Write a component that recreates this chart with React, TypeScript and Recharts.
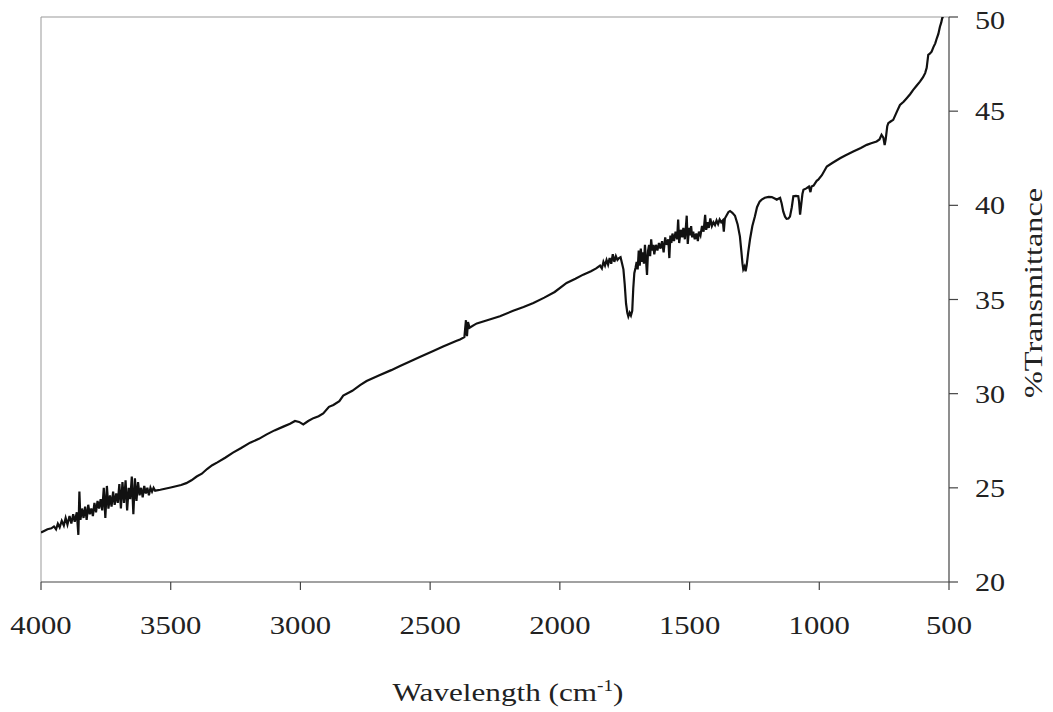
import React from "react";
import { LineChart, Line, XAxis, YAxis, ReferenceLine, Label } from "recharts";

const wavenumbers: number[] = [
  4000, 3990, 3975, 3960, 3950, 3942, 3935, 3928, 3920, 3912, 3905, 3898, 3890, 3883, 3876, 3870,
  3862, 3856, 3852, 3848, 3842, 3836, 3830, 3824, 3818, 3812, 3806, 3800, 3794, 3788, 3782, 3776,
  3770, 3764, 3758, 3752, 3746, 3740, 3734, 3728, 3722, 3716, 3710, 3704, 3698, 3692, 3686, 3680,
  3674, 3668, 3662, 3656, 3650, 3644, 3638, 3632, 3626, 3620, 3614, 3608, 3602, 3596, 3590, 3584,
  3578, 3572, 3566, 3560, 3540, 3500, 3460, 3440, 3420, 3400, 3380, 3360, 3340, 3320, 3290, 3260,
  3230, 3194, 3160, 3130, 3100, 3066, 3040, 3021, 3005, 2989, 2970, 2950, 2930, 2912, 2890, 2873,
  2850, 2835, 2800, 2770, 2745, 2700, 2650, 2616, 2580, 2540, 2488, 2450, 2400, 2385, 2368, 2362,
  2358, 2354, 2348, 2330, 2320, 2280, 2231, 2180, 2140, 2102, 2060, 2020, 1974, 1940, 1910, 1880,
  1860, 1845, 1838, 1832, 1826, 1820, 1814, 1808, 1802, 1796, 1790, 1784, 1778, 1772, 1766, 1760,
  1755, 1750, 1745, 1740, 1736, 1731, 1726, 1721, 1717, 1713, 1708, 1704, 1700, 1696, 1692, 1688,
  1684, 1680, 1676, 1672, 1668, 1664, 1660, 1656, 1652, 1648, 1644, 1640, 1636, 1630, 1624, 1618,
  1612, 1606, 1600, 1594, 1588, 1582, 1578, 1574, 1570, 1566, 1560, 1554, 1548, 1544, 1540, 1534,
  1528, 1524, 1518, 1514, 1511, 1507, 1502, 1498, 1494, 1490, 1486, 1480, 1474, 1468, 1464, 1458,
  1452, 1446, 1440, 1436, 1430, 1426, 1420, 1414, 1408, 1402, 1396, 1390, 1384, 1378, 1372, 1368,
  1364, 1356, 1350, 1344, 1335, 1325, 1315, 1306, 1300, 1296, 1293, 1288, 1284, 1280, 1274, 1267,
  1258, 1248, 1240, 1230, 1222, 1210, 1195, 1183, 1170, 1164, 1158, 1151, 1145, 1139, 1132, 1126,
  1119, 1113, 1106, 1100, 1090, 1081, 1078, 1074, 1070, 1065, 1061, 1050, 1040, 1034, 1030, 1022,
  1010, 1004, 990, 971, 950, 920, 900, 869, 840, 817, 800, 779, 768, 760, 753, 748,
  744, 738, 734, 725, 715, 700, 689, 675, 663, 650, 638, 625, 612, 600, 592, 586,
  580, 574, 567, 560, 553, 547, 541, 535, 530, 526, 522,
];

const transmittance: number[] = [
  22.63, 22.7, 22.8, 22.85, 22.95, 22.8, 23.1, 22.9, 23.25, 23.0, 23.4, 23.05, 23.5, 23.1, 23.6, 23.2,
  23.7, 22.5, 24.8, 23.3, 23.9, 23.4, 24.0, 23.3, 24.1, 23.6, 23.9, 23.5, 24.2, 23.7, 24.3, 23.9,
  24.4, 23.8, 25.0, 23.4, 25.1, 23.9, 24.6, 24.0, 24.8, 24.1, 24.7, 24.2, 25.2, 23.9, 25.3, 24.2,
  25.4, 23.8, 25.0, 24.4, 25.6, 23.6, 25.5, 24.3, 25.3, 24.6, 25.0, 24.5, 25.1, 24.7, 25.0, 24.6,
  25.0, 24.8, 25.0, 24.85, 24.9, 25.02, 25.15, 25.25, 25.4, 25.6, 25.75, 26.0, 26.2, 26.35, 26.6, 26.87,
  27.1, 27.4, 27.6, 27.84, 28.05, 28.25, 28.4, 28.55, 28.5, 28.37, 28.55, 28.7, 28.8, 28.95, 29.3, 29.4,
  29.6, 29.9, 30.15, 30.45, 30.67, 30.95, 31.25, 31.47, 31.7, 31.95, 32.26, 32.5, 32.8, 32.88, 33.0, 33.9,
  33.05, 33.8, 33.5, 33.65, 33.73, 33.9, 34.11, 34.4, 34.6, 34.82, 35.1, 35.4, 35.88, 36.1, 36.32, 36.5,
  36.65, 36.8, 36.65, 37.0, 36.8, 37.1, 36.85, 37.2, 36.9, 37.4, 37.0, 37.3, 37.1, 37.2, 37.25, 36.9,
  36.6, 35.8, 34.8, 34.3, 34.1, 34.3, 34.15, 34.4, 35.6, 36.4, 36.7, 37.0, 36.6, 37.6, 36.8, 37.7,
  37.0, 37.5, 36.9, 37.9, 37.1, 36.3, 37.6, 37.9, 37.3, 38.2, 37.6, 37.9, 37.4, 37.9, 37.6, 38.0,
  37.7, 38.1, 37.5, 38.3, 37.9, 38.2, 37.2, 38.4, 38.0, 38.5, 38.1, 38.6, 38.2, 39.25, 38.0, 38.7,
  38.3, 38.8, 38.2, 38.9, 39.45, 37.95, 38.8, 38.4, 38.9, 38.3, 38.6, 38.2, 38.5, 38.1, 38.6, 38.4,
  38.9, 38.6, 39.5, 38.7, 39.1, 38.8, 39.3, 38.9, 39.1, 38.95, 39.2, 39.0, 39.25, 39.1, 39.2, 38.6,
  39.3, 39.5, 39.65, 39.7, 39.6, 39.45, 39.0, 38.35, 37.5, 36.9, 36.6, 36.75, 36.5, 36.8, 37.5, 38.2,
  38.9, 39.42, 39.9, 40.2, 40.3, 40.4, 40.45, 40.44, 40.35, 40.3, 40.35, 40.4, 40.1, 39.68, 39.4, 39.28,
  39.3, 39.4, 39.9, 40.48, 40.5, 40.48, 40.2, 39.5, 40.0, 40.6, 40.83, 40.9, 41.0, 40.7, 41.0, 41.05,
  41.3, 41.36, 41.6, 42.06, 42.25, 42.5, 42.65, 42.86, 43.05, 43.21, 43.3, 43.39, 43.5, 43.75, 43.6, 43.2,
  43.5, 44.2, 44.36, 44.45, 44.54, 45.0, 45.33, 45.5, 45.69, 45.9, 46.13, 46.35, 46.57, 46.8, 47.02, 47.3,
  47.99, 48.05, 48.16, 48.4, 48.6, 48.87, 49.1, 49.48, 49.7, 49.95, 50.0,
];

const xTicks: number[] = [4000, 3500, 3000, 2500, 2000, 1500, 1000, 500];
const yTicks: number[] = [20, 25, 30, 35, 40, 45, 50];

const data = wavenumbers.map((w, i) => ({ w, t: transmittance[i] }));

const FONT = "'Liberation Serif', 'Times New Roman', serif";

const XTick = (props: any) => {
  const { x, y, payload } = props;
  return (
    <text
      transform={`translate(${x}, ${y + 42}) scale(1.18, 1)`}
      textAnchor="middle"
      fontFamily={FONT}
      fontSize={26}
      fill="#222"
    >
      {payload.value}
    </text>
  );
};

const YTick = (props: any) => {
  const { x, y, payload } = props;
  const off = payload.value === 50 ? 12 : 9;
  return (
    <text
      transform={`translate(${x}, ${y + off}) scale(1.16, 1)`}
      textAnchor="start"
      fontFamily={FONT}
      fontSize={26}
      fill="#222"
    >
      {payload.value}
    </text>
  );
};

const XTitle = () => (
  <text
    transform="translate(508, 701) scale(1.2, 1)"
    textAnchor="middle"
    fontFamily={FONT}
    fontSize={26}
    fill="#222"
  >
    Wavelength (cm
    <tspan fontSize={16} dy={-10}>-1</tspan>
    <tspan dy={10}>)</tspan>
  </text>
);

const YTitle = () => (
  <text
    transform="translate(1042, 293) rotate(-90) scale(1.24, 1)"
    textAnchor="middle"
    fontFamily={FONT}
    fontSize={26}
    fill="#222"
  >
    %Transmittance
  </text>
);

export default function App() {
  return (
    <div style={{ margin: "-8px 0 0 -8px", width: 1053, height: 712 }}>
      <LineChart
        width={1053}
        height={712}
        data={data}
        margin={{ top: 17, right: 0, bottom: 0, left: 41 }}
      >
        <XAxis
          dataKey="w"
          type="number"
          domain={[500, 4000]}
          reversed
          ticks={xTicks}
          interval={0}
          height={130}
          tickSize={8}
          tickMargin={2}
          axisLine={{ stroke: "#444", strokeWidth: 1.2 }}
          tickLine={{ stroke: "#444", strokeWidth: 1.2 }}
          tick={<XTick />}
          allowDataOverflow
        >
          <Label content={<XTitle />} />
        </XAxis>
        <YAxis
          orientation="right"
          type="number"
          domain={[20, 50]}
          ticks={yTicks}
          interval={0}
          width={104}
          tickSize={9}
          tickMargin={17}
          axisLine={{ stroke: "#444", strokeWidth: 1.2 }}
          tickLine={{ stroke: "#444", strokeWidth: 1.2 }}
          tick={<YTick />}
          allowDataOverflow
        >
          <Label content={<YTitle />} />
        </YAxis>
        <ReferenceLine y={50} stroke="#999" strokeWidth={1} />
        <ReferenceLine x={4000} stroke="#999" strokeWidth={1} />
        <Line
          type="linear"
          dataKey="t"
          stroke="#111"
          strokeWidth={2.2}
          dot={false}
          isAnimationActive={false}
        />
      </LineChart>
    </div>
  );
}
